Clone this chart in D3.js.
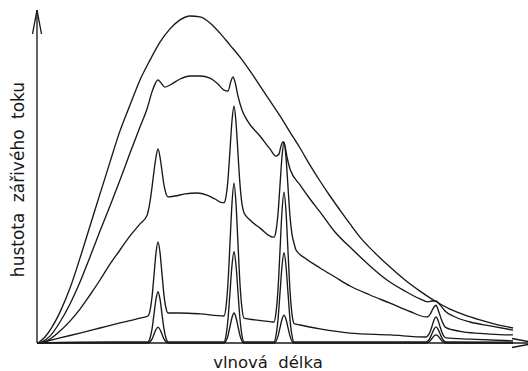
<!DOCTYPE html>
<html>
<head>
<meta charset="utf-8">
<script src="https://cdn.jsdelivr.net/npm/d3@7"></script>
<style>
  html, body { margin: 0; padding: 0; background: #fff; }
  svg { display: block; }
</style>
</head>
<body>
<svg id="chart" width="528" height="371"></svg>
<script>
// Axis titles
const xTitle = "vlnová délka";
const yTitle = "hustota zářivého toku";

// Spectra: [wavelength, radiant flux density] in arbitrary units.
// Pure thermal (black-body) continuum
const blackbody = [[0.5,0],[4,2],[7.5,5.3],[11.5,10.3],[16.5,18.3],[21.5,28.3],[26.5,39],[31.5,49.7],[36.5,60.3],[41.5,70.7],[46.5,79.3],[51.5,87.7],[56.5,94.3],[61.5,100.3],[66.5,104.7],[71.5,107.7],[76.5,109],[81.5,108.7],[86.5,106.7],[91.5,103.3],[96.5,99.3],[101.5,95.3],[106.5,90.7],[111.5,85.7],[116.5,80.7],[121.5,75.7],[126.5,70.3],[131.5,65],[136.5,59.3],[141.5,54],[146.5,49],[151.5,44.3],[156.5,39.7],[161.5,35.3],[169,30],[176.5,25.3],[184,21],[191.5,17.3],[199,14],[206.5,11.3],[214,9.3],[221.5,7.7],[229,6.3],[238,5]];

// Strong continuum with weak line bumps
const spectrumB = [[1.5,0],[6.5,2.3],[11.5,7],[16.5,13],[21.5,20.3],[26.5,28.7],[31.5,37.3],[36.5,45.7],[41.5,54.3],[46.5,63.3],[51.5,72],[55,78],[57.5,83.7],[59,86.3],[60.5,87.7],[62,86.7],[64,85.3],[66.5,86],[71.5,88],[76.5,89],[81.5,89],[86.5,88.3],[90.5,86.3],[93.5,84.3],[95.5,84],[97,87.3],[98,88.7],[99,87],[100.5,82.3],[102.5,77.7],[105,74.3],[111.5,69],[116.5,64.7],[119.5,62.3],[121,63],[122,65.7],[123,67],[124,65.7],[125,62],[126.5,58],[131.5,52.7],[136.5,48],[141.5,43.7],[149,37],[158,31],[166.5,25.7],[175,21],[184,17.3],[191.5,14.7],[195.5,13.7],[197.5,14],[199.5,14],[201.5,12.7],[204,10.7],[208,9],[216.5,7],[226.5,5.7],[238,4.3]];

// Medium continuum with clear emission lines
const spectrumC = [[2.5,0],[6.5,1.3],[11.5,4],[16.5,7.3],[21.5,11.3],[26.5,16],[31.5,21],[36.5,26.3],[41.5,31],[46.5,35.7],[51.5,39.7],[55,42.5],[56.5,47.1],[57.5,51.9],[58.5,57.3],[59.5,62],[60.5,64.7],[61.5,62],[62.5,57.3],[63.5,52.6],[64.5,49.8],[65.5,48.7],[69,49],[74,49.7],[80,50],[85,49.3],[89,48],[92.5,46.8],[93.5,46.8],[94.5,48.8],[95.5,54.6],[96.5,64.3],[97.5,74.1],[98.5,79],[99.5,73.5],[100.5,63.1],[101.5,52.8],[102.5,46.3],[103.5,43.4],[106.5,41],[111.5,38.3],[118,35.3],[118.5,35.3],[119.5,37.4],[120.5,43.1],[121.5,52.6],[122.5,62.1],[123.5,67],[124.5,61.8],[125.5,52],[126.5,42.2],[127.5,36.2],[128.5,33.3],[129.5,31],[134,28.3],[141.5,25],[149,22],[156.5,19],[166.5,16],[176.5,13.3],[186.5,10.5],[194.5,8.7],[195.5,8.8],[196.5,9.5],[197.5,10.8],[198.5,12],[199.5,12.6],[200.5,11.2],[201.5,9.2],[202.5,7.3],[203.5,5.9],[204.5,5.1],[211.5,3.9],[221.5,3.2],[231.5,2.8],[238,2.7]];

// Weak continuum with emission lines
const spectrumD = [[1.5,0],[11.5,1.7],[21.5,3.3],[31.5,5],[41.5,6.7],[51.5,8.3],[55.5,9],[56.5,10.8],[57.5,15.3],[58.5,22.6],[59.5,30],[60.5,33.7],[61.5,30.2],[62.5,23],[63.5,15.9],[64.5,11.6],[65.5,10],[71.5,10],[81.5,9.7],[93.5,9],[94.5,12],[95.5,20.1],[96.5,33.3],[97.5,46.6],[98.5,53.3],[99.5,46.5],[100.5,33],[101.5,19.6],[102.5,11.5],[103.5,8.3],[109,7.7],[116.5,7.1],[118.5,7],[119.5,10.1],[120.5,17.8],[121.5,30.8],[122.5,43.9],[123.5,50.3],[124.5,43.8],[125.5,30.6],[126.5,17.5],[127.5,9.6],[128.5,6.5],[131.5,6],[141.5,4.7],[156.5,3.3],[176.5,2.7],[194.5,2],[195.5,2.5],[196.5,3.7],[197.5,5.6],[198.5,7.7],[199.5,8.7],[200.5,7.6],[201.5,5.5],[202.5,3.5],[203.5,2.2],[204.5,1.7],[216.5,1.3],[238,0.7]];

// Emission lines on an almost vanishing continuum
const spectrumE = [[0,0],[20,0.3],[55.5,0.4],[56.5,1.6],[57.5,4.6],[58.5,9.6],[59.5,14.6],[60.5,17.1],[61.5,14.6],[62.5,9.6],[63.5,4.6],[64.5,1.6],[65.5,0.4],[93.5,0.4],[94.5,2.5],[95.5,7.9],[96.5,16.9],[97.5,25.9],[98.5,30.4],[99.5,25.9],[100.5,16.9],[101.5,7.9],[102.5,2.5],[103.5,0.4],[118.5,0.4],[119.5,2.5],[120.5,7.8],[121.5,16.7],[122.5,25.6],[123.5,30.1],[124.5,25.6],[125.5,16.7],[126.5,7.8],[127.5,2.5],[128.5,0.4],[194.5,0.4],[195.5,0.75],[196.5,1.65],[197.5,3.15],[198.5,4.65],[199.5,5.4],[200.5,4.65],[201.5,3.15],[202.5,1.65],[203.5,0.75],[204.5,0.4],[238,0.3]];

// Faint emission lines only
const spectrumF = [[0,0],[55.5,0],[56.5,0.4],[57.5,1.3],[58.5,2.9],[59.5,4.5],[60.5,5.3],[61.5,4.5],[62.5,2.9],[63.5,1.3],[64.5,0.4],[65.5,0],[93.5,0],[94.5,0.7],[95.5,2.5],[96.5,5.5],[97.5,8.5],[98.5,10],[99.5,8.5],[100.5,5.5],[101.5,2.5],[102.5,0.7],[103.5,0],[118.5,0],[119.5,0.65],[120.5,2.3],[121.5,5.1],[122.5,7.9],[123.5,9.3],[124.5,7.9],[125.5,5.1],[126.5,2.3],[127.5,0.65],[128.5,0],[194.5,0],[195.5,0.2],[196.5,0.7],[197.5,1.5],[198.5,2.3],[199.5,2.7],[200.5,2.3],[201.5,1.5],[202.5,0.7],[203.5,0.2],[204.5,0],[238,0]];

const spectra = [blackbody, spectrumB, spectrumC, spectrumD, spectrumE, spectrumF];

// Axis extents (arrow tips) in data units
const xAxisMax = 249.5;
const yAxisMax = 111;

const svg = d3.select("#chart");
const x = d3.scaleLinear().domain([0, 238]).range([37, 513]);
const y = d3.scaleLinear().domain([0, 109]).range([343, 16]);

const ink = "#181818";

// Spectra
const line = d3.line()
  .x(d => x(d[0]))
  .y(d => y(d[1]))
  .curve(d3.curveMonotoneX);

svg.append("g")
  .selectAll("path")
  .data(spectra)
  .join("path")
  .attr("d", line)
  .attr("fill", "none")
  .attr("stroke", ink)
  .attr("stroke-width", 1.35)
  .attr("stroke-linejoin", "round");

// Axes with open arrowheads
const x0 = x(0), y0 = y(0);
const xEnd = x(xAxisMax), yEnd = y(yAxisMax);
const axes = svg.append("g")
  .attr("fill", "none")
  .attr("stroke", ink)
  .attr("stroke-width", 1.35);

axes.append("line").attr("x1", x0).attr("y1", y0).attr("x2", x0).attr("y2", yEnd);
axes.append("line").attr("x1", x0).attr("y1", y0).attr("x2", xEnd).attr("y2", y0);

const headLen = 24, headHalf = 4.5;
axes.append("path")
  .attr("d", `M${x0 - headHalf},${yEnd + headLen} L${x0},${yEnd} L${x0 + headHalf},${yEnd + headLen}`);
axes.append("path")
  .attr("d", `M${xEnd - headLen},${y0 - headHalf} L${xEnd},${y0} L${xEnd - headLen},${y0 + headHalf}`);

// Axis titles
svg.append("text")
  .attr("x", (x(0) + x(238)) / 2 - 7)
  .attr("y", 368)
  .attr("text-anchor", "middle")
  .attr("font-family", "DejaVu Sans, sans-serif")
  .attr("font-size", 16.5)
  .attr("word-spacing", 5)
  .attr("fill", ink)
  .text(xTitle);

svg.append("text")
  .attr("transform", `translate(24,${(y(0) + y(109)) / 2}) rotate(-90)`)
  .attr("text-anchor", "middle")
  .attr("font-family", "DejaVu Sans, sans-serif")
  .attr("font-size", 17)
  .attr("word-spacing", 5)
  .attr("fill", ink)
  .text(yTitle);
</script>
</body>
</html>
